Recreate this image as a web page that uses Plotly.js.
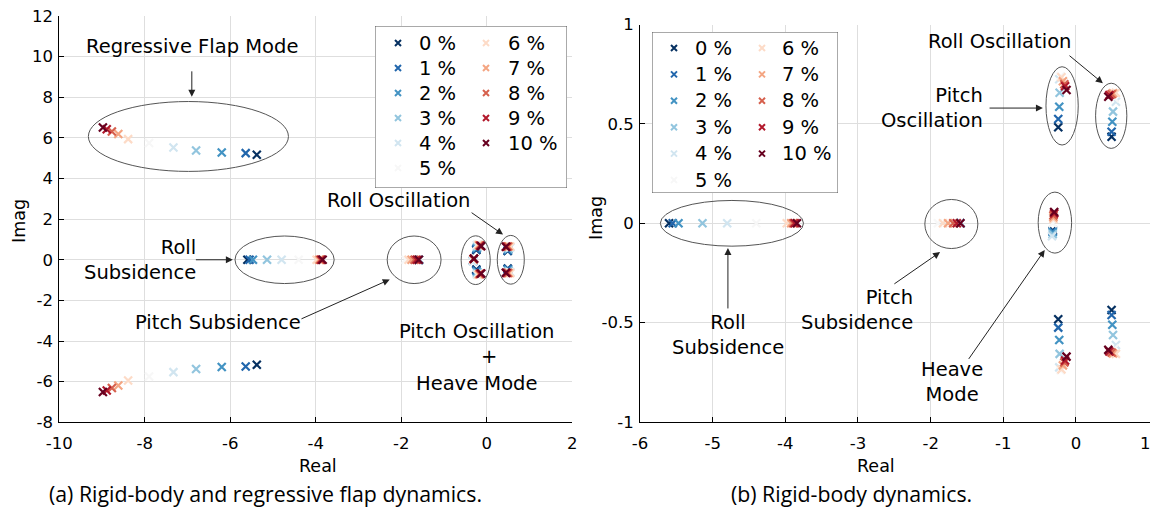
<!DOCTYPE html>
<html><head><meta charset="utf-8">
<script src="https://cdn.plot.ly/plotly-3.0.1.min.js"></script>
<style>html,body{margin:0;padding:0;background:#fff}#chart{width:1151px;height:511px}</style>
</head><body><div id="chart"></div>
<script>
// ---- data ----
const seriesLabels = ['0 %','1 %','2 %','3 %','4 %','5 %','6 %','7 %','8 %','9 %','10 %'];
const seriesColors = ['#053061','#2166ac','#4393c3','#92c5de','#d1e5f0','#f7f7f7','#fddbc7','#f4a582','#d6604d','#b2182b','#67001f'];
// regressive flap mode (complex pair)
const flapRe = [-5.38,-5.64,-6.20,-6.80,-7.33,-7.90,-8.39,-8.62,-8.77,-8.89,-8.98];
const flapIm = [5.17,5.25,5.28,5.38,5.53,5.75,5.94,6.19,6.31,6.43,6.51];
// roll subsidence (real)
const rollSubRe = [-5.60,-5.55,-5.47,-5.14,-4.80,-4.40,-3.98,-3.92,-3.89,-3.87,-3.84];
// pitch subsidence (real)
const pitchSubRe = [-1.59,-1.59,-1.59,-1.59,-1.59,-1.90,-1.83,-1.76,-1.69,-1.64,-1.59];
// heave mode
const heaveRe = [-0.32,-0.32,-0.32,-0.32,-0.33,-0.32,-0.31,-0.31,-0.31,-0.30,-0.30];
const heaveIm = [-0.035,-0.04,-0.045,-0.055,-0.065,0.0,0.02,0.03,0.04,0.05,0.057];
// pitch oscillation (complex pair)
const pitchOscRe = [-0.244,-0.244,-0.23,-0.225,-0.23,-0.21,-0.20,-0.18,-0.16,-0.15,-0.13];
const pitchOscIm = [0.483,0.525,0.587,0.657,0.725,0.74,0.735,0.715,0.70,0.69,0.671];
// roll oscillation (complex pair)
const rollOscRe = [0.49,0.49,0.50,0.51,0.55,0.53,0.55,0.51,0.49,0.46,0.445];
const rollOscIm = [0.436,0.461,0.511,0.562,0.612,0.63,0.657,0.655,0.65,0.645,0.637];
// ticks
const leftXTicks = [-10,-8,-6,-4,-2,0,2];
const leftXTickText = ['-10','-8','-6','-4','-2','0','2'];
const leftYTicks = [-8,-6,-4,-2,0,2,4,6,8,10,12];
const leftYTickText = ['-8','-6','-4','-2','0','2','4','6','8','10','12'];
const rightXTicks = [-6,-5,-4,-3,-2,-1,0,1];
const rightXTickText = ['-6','-5','-4','-3','-2','-1','0','1'];
const rightYTicks = [-1,-0.5,0,0.5,1];
const rightYTickText = ['-1','-0.5','0','0.5','1'];

// ---- build ----
const FONT = 'DejaVu Sans, sans-serif';
const W=1151,H=511;
const traces = [];
seriesLabels.forEach((lab,i)=>{
  const mk = {symbol:'x-thin', size:8, color:seriesColors[i], line:{color:seriesColors[i], width:2.2}};
  traces.push({type:'scatter', mode:'markers', xaxis:'x', yaxis:'y', name:lab, hoverinfo:'skip',
    x:[flapRe[i],flapRe[i],rollSubRe[i],pitchSubRe[i],heaveRe[i],pitchOscRe[i],pitchOscRe[i],rollOscRe[i],rollOscRe[i]],
    y:[flapIm[i],-flapIm[i],0,0,heaveIm[i],pitchOscIm[i],-pitchOscIm[i],rollOscIm[i],-rollOscIm[i]],
    marker:mk});
  traces.push({type:'scatter', mode:'markers', xaxis:'x2', yaxis:'y2', name:lab, hoverinfo:'skip',
    x:[rollSubRe[i],pitchSubRe[i],heaveRe[i],pitchOscRe[i],pitchOscRe[i],rollOscRe[i],rollOscRe[i]],
    y:[0,0,heaveIm[i],pitchOscIm[i],-pitchOscIm[i],rollOscIm[i],-rollOscIm[i]],
    marker:mk});
});

// legends (manual two-column layout, coordinates in box pixels)
const legends = [
  {ax:'3', left:375, top:26, w:192, h:162, mx:[23,111], tx:[42,131], r0:17, dr:25},
  {ax:'4', left:652, top:32, w:186, h:161, mx:[22,110], tx:[41,128], r0:16, dr:26.4}
];
const annotations = [];
const shapes = [];
legends.forEach(L=>{
  const lx=[], ly=[], lc=[];
  seriesLabels.forEach((lab,i)=>{
    const col = i<6?0:1, row = i<6?i:i-6;
    const yy = L.r0 + L.dr*row;
    lx.push(L.mx[col]); ly.push(yy); lc.push(seriesColors[i]);
    annotations.push({xref:'x'+L.ax, yref:'y'+L.ax, x:L.tx[col], y:yy, text:lab, showarrow:false,
      xanchor:'left', yanchor:'middle', font:{family:FONT, size:19.5, color:'#000'}});
  });
  traces.push({type:'scatter', mode:'markers', xaxis:'x'+L.ax, yaxis:'y'+L.ax, x:lx, y:ly, hoverinfo:'skip',
    marker:{symbol:'x-thin', size:6, color:lc, line:{color:lc, width:2}}});
  shapes.push({type:'rect', xref:'x'+L.ax, yref:'y'+L.ax, x0:0, x1:L.w, y0:0, y1:L.h, layer:'below',
    line:{color:'#555', width:1}, fillcolor:'#fff'});
});

// ellipses
const ell = (xr,yr,x0,x1,y0,y1)=>({type:'circle', xref:xr, yref:yr, x0, x1, y0, y1, line:{color:'#555', width:1}});
shapes.push(ell('x','y',-9.32,-4.64,4.35,7.79));
shapes.push(ell('x','y',-5.89,-3.57,-1.17,1.17));
shapes.push(ell('x','y',-2.33,-1.07,-1.17,1.17));
shapes.push(ell('x','y',-0.60,0.08,-1.22,1.18));
shapes.push(ell('x','y',0.245,0.877,-1.2,1.2));
shapes.push(ell('x2','y2',-5.72,-3.75,-0.115,0.115));
shapes.push(ell('x2','y2',-2.08,-1.35,-0.127,0.12));
shapes.push(ell('x2','y2',-0.52,-0.06,-0.15,0.157));
shapes.push(ell('x2','y2',-0.413,0.031,0.394,0.788));
shapes.push(ell('x2','y2',0.27,0.70,0.377,0.705));

// texts and arrows
const AF = {family:FONT, size:19.5, color:'#000'};
const txt = (xr,yr,x,y,t,xa)=>({xref:xr, yref:yr, x, y, text:t, showarrow:false, xanchor:xa||'center', yanchor:'middle', align:xa||'center', font:AF});
const arr = (xr,yr,x,y,ax,ay)=>({xref:xr, yref:yr, axref:xr, ayref:yr, x, y, ax, ay, text:'', showarrow:true,
  arrowhead:2, arrowsize:1.4, arrowwidth:1, arrowcolor:'#222', standoff:0, startstandoff:0});
annotations.push(txt('x','y',-6.9,10.48,'Regressive Flap Mode'));
annotations.push(arr('x','y',-6.9,8.02,-6.9,9.35));
annotations.push(txt('x','y',-6.76,0.0,'Roll<br>Subsidence','right'));
annotations.push(arr('x','y',-5.94,0,-6.84,0));
annotations.push(txt('x','y',-6.28,-3.09,'Pitch Subsidence'));
annotations.push(arr('x','y',-2.27,-0.97,-4.37,-2.94));
annotations.push(txt('x','y',-2.07,2.91,'Roll Oscillation'));
annotations.push(arr('x','y',0.38,1.24,-0.39,2.37));
annotations.push(txt('x','y',-0.25,-3.53,'Pitch Oscillation'));
annotations.push(txt('x','y',0.05,-4.76,'+'));
annotations.push(txt('x','y',-0.25,-6.08,'Heave Mode'));

annotations.push(txt('x2','y2',-1.046,0.914,'Roll Oscillation'));
annotations.push(arr('x2','y2',0.37,0.705,-0.11,0.85));
annotations.push(txt('x2','y2',-1.25,0.58,'Pitch<br>Oscillation','right'));
annotations.push(arr('x2','y2',-0.455,0.58,-1.21,0.58));
annotations.push(txt('x2','y2',-4.79,-0.56,'Roll<br>Subsidence'));
annotations.push(arr('x2','y2',-4.79,-0.124,-4.79,-0.436));
annotations.push(txt('x2','y2',-2.216,-0.437,'Pitch<br>Subsidence','right'));
annotations.push(arr('x2','y2',-1.87,-0.145,-2.52,-0.31));
annotations.push(txt('x2','y2',-1.71,-0.80,'Heave<br>Mode'));
annotations.push(arr('x2','y2',-0.43,-0.134,-1.49,-0.69));

// axis titles and captions (paper coords)
const TF = {family:FONT, size:16.5, color:'#000'};
const LF = {family:FONT, size:17.5, color:'#000'};
const pap = (px,py,t,extra)=>Object.assign({xref:'paper', yref:'paper', x:px/W, y:1-py/H, text:t, showarrow:false,
  xanchor:'center', yanchor:'middle', font:LF}, extra||{});
annotations.push(pap(318,466,'Real'));
annotations.push(pap(876,466,'Real'));
annotations.push(pap(19,221,'Imag',{textangle:-90}));
annotations.push(pap(596,218,'Imag',{textangle:-90}));
const CF = {family:'Open Sans, sans-serif', size:21.3, color:'#000'};
annotations.push(pap(47,493,'(a) Rigid-body and regressive flap dynamics.',{xanchor:'left', font:CF}));
annotations.push(pap(729,493,'(b) Rigid-body dynamics.',{xanchor:'left', font:CF}));

// last right-panel tick label sits at the page edge: draw it as text just inside the page
const nR = rightXTicks.length-1;
const rightXTickShown = rightXTickText.map((t,k)=>k===nR?'':t);
annotations.push({xref:'x2', yref:'y2', x:rightXTicks[nR], y:-1, xshift:-3, yshift:-10, xanchor:'center', yanchor:'top',
  text:rightXTickText[nR], showarrow:false, font:TF});

const axBase = {showgrid:true, gridcolor:'#dedede', gridwidth:1, zeroline:false, showline:true, linecolor:'#000', linewidth:1,
  ticks:'inside', ticklen:5, tickcolor:'#000', tickfont:TF, automargin:false, mirror:false, tickmode:'array'};
const layout = {
  width:W, height:H, margin:{l:0,r:0,t:0,b:0}, showlegend:false,
  paper_bgcolor:'#fff', plot_bgcolor:'rgba(0,0,0,0)',
  xaxis:Object.assign({}, axBase, {domain:[59.3/W, 572.3/W], range:[-10,2.0001], tickvals:leftXTicks, ticktext:leftXTickText, ticklabelstandoff:6}),
  yaxis:Object.assign({}, axBase, {domain:[1-422.3/H, 1-16/H], range:[-8,12.0001], tickvals:leftYTicks, ticktext:leftYTickText, ticklabelstandoff:2}),
  xaxis2:Object.assign({}, axBase, {anchor:'y2', domain:[640/W, 1149.5/W], range:[-6,1.012], tickvals:rightXTicks, ticktext:rightXTickShown, ticklabelstandoff:6}),
  yaxis2:Object.assign({}, axBase, {anchor:'x2', domain:[1-422/H, 1-24.6/H], range:[-1,1.0001], tickvals:rightYTicks, ticktext:rightYTickText, ticklabelstandoff:2}),
  xaxis3:{domain:[375/W, 567/W], range:[0,192], visible:false, anchor:'y3', fixedrange:true},
  yaxis3:{domain:[1-188/H, 1-26/H], range:[162,0], visible:false, anchor:'x3', fixedrange:true},
  xaxis4:{domain:[652/W, 838/W], range:[0,186], visible:false, anchor:'y4', fixedrange:true},
  yaxis4:{domain:[1-193/H, 1-32/H], range:[161,0], visible:false, anchor:'x4', fixedrange:true},
  shapes, annotations
};
Plotly.newPlot('chart', traces, layout, {displayModeBar:false, staticPlot:true});
</script></body></html>
